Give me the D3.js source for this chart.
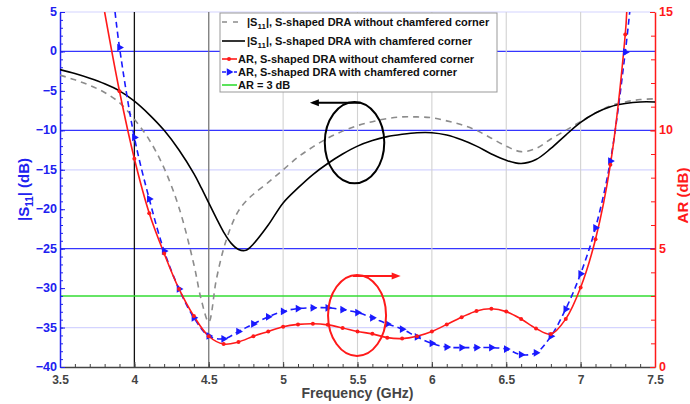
<!DOCTYPE html>
<html><head><meta charset="utf-8">
<script src="https://cdn.jsdelivr.net/npm/d3@7"></script>
<style>
body{margin:0;background:#fff}
svg{display:block;font-family:"Liberation Sans",Arial,sans-serif;font-weight:bold}
</style>
</head><body>
<svg id="c" width="690" height="404"></svg>
<script>
// ---------------- data ----------------
const s11Freq = [3.5,3.6,3.7,3.8,3.9,4.0,4.1,4.2,4.3,4.4,4.45,4.5,4.55,4.6,4.65,4.7,4.75,4.8,4.9,5.0,5.1,5.2,5.3,5.4,5.5,5.6,5.7,5.8,5.9,6.0,6.1,6.2,6.3,6.4,6.5,6.6,6.7,6.8,6.9,7.0,7.1,7.2,7.3,7.4,7.5];
const s11NoChamfer = [-3.0,-3.6,-4.3,-5.2,-6.5,-8.6,-11.2,-14.8,-19.8,-27.0,-31.5,-34.3,-29.0,-25.0,-22.2,-20.2,-19.0,-18.1,-16.6,-15.0,-13.4,-12.1,-11.0,-10.1,-9.4,-8.9,-8.5,-8.3,-8.3,-8.4,-8.8,-9.3,-10.0,-11.0,-12.0,-12.7,-12.3,-11.1,-10.0,-8.9,-7.8,-6.9,-6.4,-6.1,-6.0];
const s11Chamfer = [-2.3,-2.8,-3.4,-4.1,-5.0,-6.3,-8.0,-10.0,-12.5,-15.5,-17.3,-19.2,-21.1,-22.9,-24.3,-25.1,-25.2,-24.4,-22.0,-19.2,-17.3,-15.6,-14.2,-13.0,-12.0,-11.3,-10.8,-10.5,-10.3,-10.3,-10.6,-11.2,-12.0,-13.0,-13.8,-14.2,-13.7,-12.3,-10.6,-9.0,-7.8,-7.0,-6.6,-6.4,-6.4];

const arNoChamferFreq = [3.8,3.9,4.0,4.1,4.2,4.3,4.4,4.5,4.6,4.7,4.8,4.9,5.0,5.1,5.2,5.3,5.4,5.5,5.6,5.7,5.8,5.9,6.0,6.1,6.2,6.3,6.4,6.5,6.6,6.7,6.8,6.9,7.0,7.1,7.2,7.3,7.31];
const arNoChamfer = [15.0,11.65,8.8,6.5,4.8,3.3,2.15,1.3,0.97,1.06,1.3,1.5,1.7,1.8,1.83,1.78,1.65,1.5,1.4,1.24,1.2,1.3,1.5,1.8,2.1,2.37,2.46,2.34,2.03,1.63,1.39,2.03,3.36,5.4,8.55,14.05,15.0];

const arChamferFreq = [3.87,3.9,4.0,4.1,4.2,4.3,4.4,4.5,4.6,4.7,4.8,4.9,5.0,5.1,5.2,5.3,5.4,5.5,5.6,5.7,5.8,5.9,6.0,6.1,6.2,6.3,6.4,6.5,6.6,6.7,6.8,6.9,7.0,7.1,7.2,7.3,7.33];
const arChamfer = [15.0,13.5,9.7,7.1,4.9,3.3,2.08,1.31,1.19,1.5,1.82,2.12,2.35,2.47,2.5,2.5,2.42,2.3,2.08,1.82,1.6,1.27,1.0,0.84,0.82,0.82,0.82,0.76,0.52,0.6,1.3,2.45,3.94,5.88,8.7,13.3,15.0];

const arLimit = 3;
const xTicks = [3.5,4,4.5,5,5.5,6,6.5,7,7.5];
const yLeftTicks = [-40,-35,-30,-25,-20,-15,-10,-5,0,5];
const yRightTicks = [0,5,10,15];
const legendLabels = ["|S11|, S-shaped DRA without chamfered corner","|S11|, S-shaped DRA with chamfered corner","AR, S-shaped DRA without chamfered corner","AR, S-shaped DRA with chamfered corner","AR = 3 dB"];

// ---------------- chart ----------------
const svg = d3.select("#c");
const L=60,R=655,T=12,B=367;
const x = d3.scaleLinear().domain([3.5,7.5]).range([L,R]);
const yL = d3.scaleLinear().domain([-40,5]).range([B,T]);
const yR = d3.scaleLinear().domain([0,15]).range([B,T]);

const BLUE="#2020f0", RED="#ff1a1a", GREEN="#33dd33", GRAY="#8c8c8c";

svg.append("defs").append("clipPath").attr("id","clip")
  .append("rect").attr("x",L).attr("y",T).attr("width",R-L).attr("height",B-T);

// grid: horizontal
const strongH=[0,-10,-25], lightH=[5,-15,-35];
svg.append("g").selectAll("line").data(lightH).join("line")
  .attr("x1",L).attr("x2",R).attr("y1",d=>yL(d)).attr("y2",d=>yL(d))
  .attr("stroke","#d4d4ff").attr("stroke-width",1.2);
svg.append("g").selectAll("line").data(strongH).join("line")
  .attr("x1",L).attr("x2",R).attr("y1",d=>yL(d)).attr("y2",d=>yL(d))
  .attr("stroke","#3535ff").attr("stroke-width",1.3);
// grid: vertical
const vColor = {4:"#111",4.5:"#777"};
svg.append("g").selectAll("line").data([5,5.5,6,6.5,7,4,4.5]).join("line")
  .attr("x1",d=>x(d)).attr("x2",d=>x(d)).attr("y1",T).attr("y2",B)
  .attr("stroke",d=>vColor[d]||"#d2d2d2").attr("stroke-width",d=>vColor[d]?1.3:1.1);

// AR = 3 line
svg.append("line").attr("x1",L).attr("x2",R).attr("y1",yR(arLimit)).attr("y2",yR(arLimit))
  .attr("stroke",GREEN).attr("stroke-width",1.5);

// axes
function styleAxis(g,color,fontSize){
  g.selectAll("path.domain").attr("stroke",color).attr("stroke-width",1.5);
  g.selectAll(".tick line").attr("stroke",color);
  g.selectAll(".tick text").attr("fill",color).attr("font-size",fontSize)
    .attr("font-family","'Liberation Sans',Arial,sans-serif").attr("font-weight","bold");
}
const gB = svg.append("g").attr("transform",`translate(0,${B})`)
  .call(d3.axisBottom(x).tickValues(xTicks).tickSize(-5).tickSizeOuter(0).tickPadding(8).tickFormat(d3.format("")));
styleAxis(gB,"#444",12);
const gBm = svg.append("g").attr("transform",`translate(0,${B})`)
  .call(d3.axisBottom(x).tickValues(d3.range(35,76,1).map(d=>d/10)).tickSize(-3).tickFormat(""));
gBm.select(".domain").remove(); gBm.selectAll("line").attr("stroke","#444");

const gL = svg.append("g").attr("transform",`translate(${L},0)`)
  .call(d3.axisLeft(yL).tickValues(yLeftTicks).tickSize(-5).tickSizeOuter(0).tickPadding(3));
styleAxis(gL,BLUE,12.5);
gL.selectAll(".tick text").attr("dy","0.28em");
const gLm = svg.append("g").attr("transform",`translate(${L},0)`)
  .call(d3.axisLeft(yL).tickValues(d3.range(-40,6,1)).tickSize(-3).tickFormat(""));
gLm.select(".domain").remove(); gLm.selectAll("line").attr("stroke",BLUE);

const gR = svg.append("g").attr("transform",`translate(${R},0)`)
  .call(d3.axisRight(yR).tickValues(yRightTicks).tickSize(-5).tickSizeOuter(0).tickPadding(4));
styleAxis(gR,RED,12.5);
gR.selectAll(".tick text").attr("dy","0.28em");
const gRm = svg.append("g").attr("transform",`translate(${R},0)`)
  .call(d3.axisRight(yR).tickValues(d3.range(0,16,1)).tickSize(-4).tickFormat(""));
gRm.select(".domain").remove(); gRm.selectAll("line").attr("stroke",RED);

// curves
const plot = svg.append("g").attr("clip-path","url(#clip)");
const s11Line = d3.line().x(d=>x(d[0])).y(d=>yL(d[1])).curve(d3.curveCatmullRom.alpha(0.5));
const arLine = d3.line().x(d=>x(d[0])).y(d=>yR(d[1])).curve(d3.curveCatmullRom.alpha(0.5));

plot.append("path").datum(d3.zip(s11Freq,s11NoChamfer)).attr("d",s11Line)
  .attr("fill","none").attr("stroke",GRAY).attr("stroke-width",1.6).attr("stroke-dasharray","6,5");
plot.append("path").datum(d3.zip(s11Freq,s11Chamfer)).attr("d",s11Line)
  .attr("fill","none").attr("stroke","#000").attr("stroke-width",1.6);

const redData = d3.zip(arNoChamferFreq,arNoChamfer);
const blueData = d3.zip(arChamferFreq,arChamfer);
plot.append("path").datum(blueData).attr("d",arLine)
  .attr("fill","none").attr("stroke","#1a1aff").attr("stroke-width",1.6).attr("stroke-dasharray","6,4");
plot.append("path").datum(redData).attr("d",arLine)
  .attr("fill","none").attr("stroke",RED).attr("stroke-width",1.6);
const tri = d3.symbol(d3.symbolTriangle).size(26);
plot.append("g").selectAll("path").data(blueData.filter(d=>d[1]<15)).join("path")
  .attr("d",tri).attr("fill","#1a1aff")
  .attr("transform",d=>`translate(${x(d[0])},${yR(d[1])}) rotate(90)`);
plot.append("g").selectAll("circle").data(redData.filter(d=>d[1]<15)).join("circle")
  .attr("cx",d=>x(d[0])).attr("cy",d=>yR(d[1])).attr("r",2).attr("fill",RED);

// annotations (in data units)
function arrow(g,x1,y1,x2,y2,color){
  g.append("line").attr("x1",x1).attr("y1",y1).attr("x2",x2).attr("y2",y2)
    .attr("stroke",color).attr("stroke-width",2);
  const dir = Math.sign(x2-x1);
  g.append("path").attr("d",`M${x2+dir*3},${y2} L${x2-dir*6},${y2-3.5} L${x2-dir*6},${y2+3.5} Z`).attr("fill",color);
}
const ann = svg.append("g");
ann.append("ellipse").attr("cx",x(5.48)).attr("cy",yL(-11.55))
  .attr("rx",x(5.48+0.2)-x(5.48)).attr("ry",yL(-11.55)-yL(-11.55+5.15))
  .attr("fill","none").attr("stroke","#000").attr("stroke-width",2);
arrow(ann,x(5.52),yL(-6.5),x(5.2),yL(-6.5),"#000");
ann.append("ellipse").attr("cx",x(5.497)).attr("cy",yR(2.18))
  .attr("rx",x(5.497+0.195)-x(5.497)).attr("ry",yR(2.18)-yR(2.18+1.71))
  .attr("fill","none").attr("stroke",RED).attr("stroke-width",2);
arrow(ann,x(5.47),yR(3.85),x(5.77),yR(3.85),RED);

// axis titles
svg.append("text").attr("x",(L+R)/2).attr("y",398).attr("text-anchor","middle")
  .attr("font-size",14).attr("fill","#444").text("Frequency (GHz)");
const tl = svg.append("text").attr("transform",`translate(29,${(T+B)/2}) rotate(-90)`)
  .attr("text-anchor","middle").attr("font-size",15).attr("fill",BLUE);
tl.append("tspan").text("|S");
tl.append("tspan").attr("font-size",10).attr("dy",4).text("11");
tl.append("tspan").attr("dy",-4).text("| (dB)");
svg.append("text").attr("transform",`translate(688,${(T+B)/2+6}) rotate(-90)`)
  .attr("text-anchor","middle").attr("font-size",15).attr("fill",RED).text("AR (dB)");

// legend
const lg = svg.append("g");
lg.append("rect").attr("x",220).attr("y",13).attr("width",277).attr("height",79)
  .attr("fill","#fff").attr("stroke","#999").attr("stroke-width",1);
const rowsY = [22,41,59,72,85];
const rowStyles = [
  {c:GRAY,dash:"5,6",x2:243,tx:247},
  {c:"#000",dash:null,x2:245,tx:247},
  {c:RED,dash:null,x2:237,tx:238,marker:"dot"},
  {c:"#1a1aff",dash:"4,2",x2:237,tx:238,marker:"tri"},
  {c:GREEN,dash:null,x2:237,tx:238}
];
rowStyles.forEach((s,i)=>{
  const y=rowsY[i];
  lg.append("line").attr("x1",222).attr("x2",s.x2).attr("y1",y).attr("y2",y)
    .attr("stroke",s.c).attr("stroke-width",1.6).attr("stroke-dasharray",s.dash);
  if(s.marker==="dot") lg.append("circle").attr("cx",229).attr("cy",y).attr("r",2).attr("fill",s.c);
  if(s.marker==="tri") lg.append("path").attr("d",tri).attr("fill",s.c).attr("transform",`translate(229,${y}) rotate(90)`);
  const t = lg.append("text").attr("x",s.tx).attr("y",y+4).attr("font-size",11).attr("fill","#111");
  const lab = legendLabels[i];
  if(lab.startsWith("|S11|")){
    t.append("tspan").text("|S");
    t.append("tspan").attr("font-size",8).attr("dy",3).text("11");
    t.append("tspan").attr("dy",-3).text(lab.slice(4));
  } else t.text(lab);
});
</script>
</body></html>
